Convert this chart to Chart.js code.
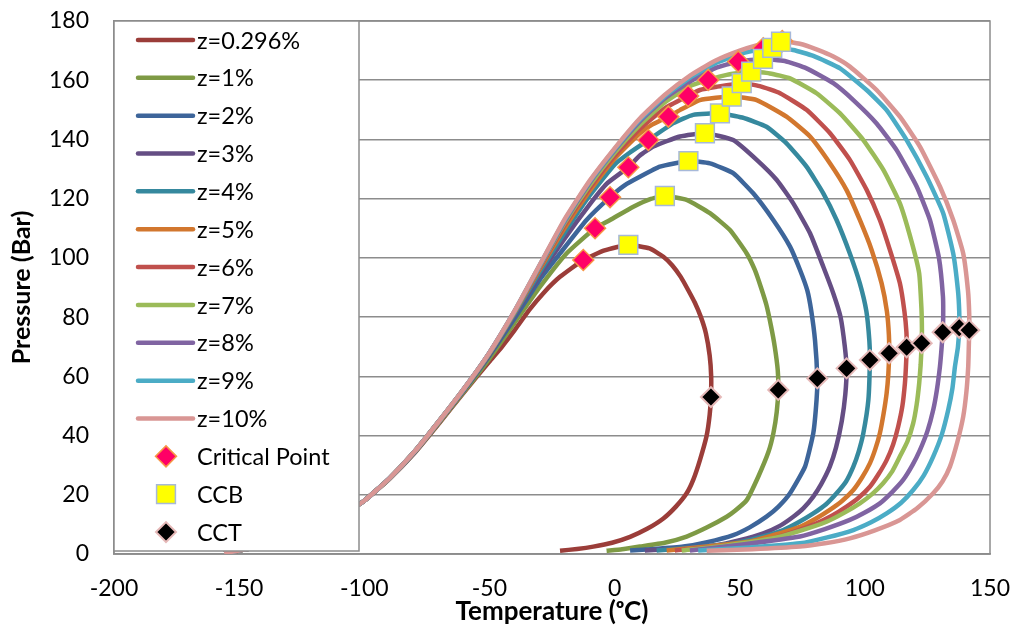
<!DOCTYPE html>
<html>
<head>
<meta charset="utf-8">
<script src="https://cdn.jsdelivr.net/npm/chart.js@4.4.1/dist/chart.umd.min.js"></script>
<style>
  html, body { margin: 0; padding: 0; background: #fff; }
</style>
</head>
<body>
<canvas id="myChart" width="1016" height="627"></canvas>
<script>
// phase envelopes, [temperature degC, pressure bar]
const z0296 = [[-156,0.3],[-150,1.2],[-140,2.8],[-130,5],[-120,8.2],[-110,12.5],[-100,18],[-90,25.3],[-80,34],[-70,44.2],[-60,54.8],[-50,65],[-45,70],[-40,75.5],[-34,82.5],[-28,88.5],[-21.8,93.6],[-12.5,99.3],[-4,102.5],[5.5,104.4],[14,103.2],[19.5,100.4],[23,97.5],[26.5,93.5],[29.5,89],[32,85],[34.5,80],[36.5,74.5],[38,67],[38.6,60],[38.5,53],[38,47],[36.8,40],[34.1,31.7],[31.5,25.2],[28.8,20.5],[24.5,16],[19.5,12],[13,8.5],[6.2,5.8],[-1,3.8],[-8.5,2.5],[-15,1.7],[-21.8,1.1]];
const z1 = [[-156,0.3],[-150,1.2],[-140,2.8],[-130,5],[-120,8.2],[-110,12.5],[-100,18],[-90,25.4],[-80,34.2],[-70,44.5],[-60,55],[-50,66],[-40,78],[-30,90],[-19.2,101.5],[-7.8,110],[-1.8,112.8],[7.5,117.3],[14,119.8],[20.1,120.9],[28.8,119.6],[38.1,115.1],[46.1,109.4],[52.8,101.5],[56,96],[58.5,90],[60.7,84],[62.5,77],[64,70],[65.2,62],[65.4,55.4],[64.8,48],[63.5,41],[61.5,34.5],[57.4,26.1],[52.8,18.2],[48,14.5],[44.8,12.6],[37,9],[28.8,5.9],[20,3.8],[10.1,2.5],[3,1.6],[-3.2,1.1]];
const z2 = [[-156,0.3],[-150,1.2],[-140,2.8],[-130,5],[-120,8.2],[-110,12.5],[-100,18],[-90,25.5],[-80,34.3],[-70,44.8],[-60,55.5],[-50,67],[-40,79.5],[-30,92.5],[-21.8,101.5],[-11.2,112.8],[-1.8,120.5],[4,124.5],[10.1,127.4],[18.1,130.8],[29.5,132.7],[38.1,131.9],[47.4,128.6],[55.4,121.8],[63.4,112.8],[70.1,103.8],[74.1,95.9],[77,89],[78.6,82],[80.1,72],[81,59.3],[80.7,52],[79.4,40.8],[76.1,29.5],[70.1,20.5],[65.5,16],[60.7,12.6],[54,9],[47.4,6.4],[37,4],[27.5,2.5],[16,1.7],[6.2,1.2]];
const z3 = [[-156,0.3],[-150,1.2],[-140,2.8],[-130,5],[-120,8.2],[-110,12.5],[-100,18],[-90,25.5],[-80,34.4],[-70,44.9],[-60,55.7],[-50,67.5],[-40,80.5],[-30,94],[-20,106.5],[-10,118],[-3.2,125],[5.5,130.6],[10,134.5],[15.5,137.6],[26.1,141],[36.1,142.1],[47.4,139.8],[56.8,133.1],[64.8,126.3],[71.4,118.4],[78.1,108.3],[83.4,97],[87.4,88],[90.3,80],[92,70],[92.7,62.7],[92.2,54],[90.8,45],[88.5,36],[86,29.5],[82.5,23.5],[79.4,19.4],[75.5,15.5],[71.4,12.6],[66,9.5],[59.4,7],[50,4.7],[40.8,3],[26,1.9],[12.1,1.2]];
const z4 = [[-156,0.3],[-150,1.2],[-140,2.8],[-130,5],[-120,8.2],[-110,12.5],[-100,18],[-90,25.5],[-80,34.5],[-70,45],[-60,55.8],[-50,67.7],[-40,81],[-30,95],[-20,108.5],[-10,121],[0,131.5],[6,135.5],[13.5,139.8],[23.5,145.5],[31.4,148.3],[42.1,148.8],[51,147.4],[60.7,144.3],[68.7,138.7],[76.7,130.8],[83.4,121.8],[88.7,112.8],[94,101.5],[98,91.4],[100.6,82],[101.8,72],[102,65.5],[101.4,52],[99.4,40.8],[97.5,34.5],[95.4,29.5],[92.5,24.5],[88.7,20.5],[84.5,16.8],[79.4,13.7],[73.5,10.7],[67.4,8.1],[57.5,5.5],[47.4,3.6],[32,2.2],[16.8,1.2]];
const z5 = [[-156,0.3],[-150,1.2],[-140,2.8],[-130,5],[-120,8.2],[-110,12.5],[-100,18],[-90,25.5],[-80,34.5],[-70,45],[-60,55.9],[-50,67.8],[-40,81.5],[-30,96],[-20,110],[-10,122.5],[0,133.5],[10,142],[15,145],[21.5,147.7],[26.1,149.9],[34.1,153.3],[46.8,154.5],[56.8,153.3],[68.7,147.7],[78.1,141],[86.1,131.9],[92.7,122.9],[98,112.8],[102.7,102.7],[106.7,91.4],[108.8,82],[109.6,74],[109.7,67.8],[109.4,61],[108.7,54.3],[107.5,47.5],[106,40.8],[104.2,35.5],[102,30.6],[99,26],[95.4,21.6],[91,18],[86,14.9],[80.5,12],[74.1,9.2],[64,6.5],[54.1,4.2],[37,2.5],[20.8,1.2]];
const z6 = [[-156,0.3],[-150,1.2],[-140,2.8],[-130,5],[-120,8.2],[-110,12.5],[-100,18],[-90,25.5],[-80,34.5],[-70,45],[-60,56],[-50,67.9],[-40,81.7],[-30,96.5],[-20,111],[-10,123.5],[0,134.5],[10,143.5],[20,150.5],[29.4,154.7],[34.1,156.7],[40.8,157.8],[50.8,159],[58,158],[66.1,155.6],[76.7,150],[86.1,142.1],[94,133.1],[100.7,123],[106,112.8],[110,102.7],[114,91.4],[115.8,82],[116.6,75],[116.7,69.8],[116.4,63],[116,57.6],[115,50],[113.3,43],[111.3,37],[108.7,31.7],[105.5,27],[102,22.7],[97.5,19],[92.7,16],[87,13],[80.7,10.4],[71,7.3],[60.7,4.7],[43,2.6],[24.1,1.2]];
const z7 = [[-156,0.3],[-150,1.2],[-140,2.8],[-130,5],[-120,8.2],[-110,12.5],[-100,18],[-90,25.5],[-80,34.5],[-70,45],[-60,56],[-50,67.9],[-40,81.8],[-30,97],[-20,111.8],[-10,124.5],[0,135.5],[10,144.8],[20,152.5],[30,158],[37.4,160.1],[44.8,161.8],[54.6,162.9],[62,162.3],[70.1,160.6],[80.7,155.6],[90.1,148.8],[99.4,139.8],[107.4,129.7],[114,118.4],[118.5,106],[121.7,94.8],[122.6,83],[122.8,76],[122.7,71.2],[122.3,64],[121.7,57.6],[120.7,50.5],[119.3,44.1],[117,38],[114,32.9],[111,28],[107.3,23.9],[103,20.3],[98,17.1],[91.5,13.8],[84.7,10.9],[74,7.8],[63.4,5.3],[45,2.9],[26.8,1.2]];
const z8 = [[-156,0.3],[-150,1.2],[-140,2.8],[-130,5],[-120,8.2],[-110,12.5],[-100,18],[-90,25.5],[-80,34.5],[-70,45],[-60,56],[-50,68],[-40,81.9],[-30,97.2],[-20,112.3],[-10,125.3],[0,136.3],[10,146],[20,153.8],[30,159.5],[40,164],[49.4,166.3],[59.3,167.2],[68,166.5],[76.7,164],[87.4,159],[95.4,153.3],[104.7,145.4],[112.7,136.4],[120.7,124.1],[126,112.8],[129.6,100],[131.2,87],[131.3,80],[131.1,74.9],[130.6,69],[130,63.3],[128.8,55.5],[127.3,48.6],[125,41.5],[122,35.1],[119,30],[115.3,25],[111,21],[106,17.1],[100,14],[94,11.5],[84,8.4],[74.1,5.9],[52,3.3],[30.1,1.2]];
const z9 = [[-156,0.3],[-150,1.2],[-140,2.8],[-130,5],[-120,8.2],[-110,12.5],[-100,18],[-90,25.5],[-80,34.5],[-70,45],[-60,56],[-50,68],[-40,81.95],[-30,97.4],[-20,112.7],[-10,125.7],[0,136.7],[10,146.6],[20,154.5],[30,160.8],[40,165.6],[50,168.8],[59.4,170.6],[63,170.9],[71.4,170.2],[79.4,168.2],[90.1,164],[100.7,156.7],[108.7,149.9],[116.7,139.8],[124.7,127.4],[131.3,115.1],[135.3,101.5],[137.2,89],[137.7,82],[137.7,76.4],[137.2,70],[136,63.3],[135,56],[133.3,48.6],[130.8,40.5],[127.3,32.9],[123.5,26.5],[119.3,21.6],[114.5,17.3],[108.7,13.7],[102.5,10.7],[95.4,8.1],[85,5.6],[74.1,3.6],[54,2.2],[33.4,1.2]];
const z10 = [[-156,0.3],[-150,1.2],[-140,2.8],[-130,5],[-120,8.2],[-110,12.5],[-100,18],[-90,25.5],[-80,34.5],[-70,45],[-60,56],[-50,68],[-40,82],[-30,97.5],[-20,113],[-10,126],[0,137],[10,147],[20,155],[30,161.5],[40,166.5],[50,170],[60,172.5],[67,173.2],[74,172.3],[80.7,170.4],[87.4,168],[94,164.6],[104.7,156.7],[114,147.7],[122,137.6],[130,124.1],[135.3,112.8],[139.3,101.5],[141.2,89],[141.7,81],[141.7,75.6],[141.5,69],[141.3,63.3],[140.6,55],[139.3,46.4],[137,38],[134,29.5],[131,24.5],[127.3,20.5],[121,15.5],[114,11.5],[104,8],[94,5.3],[84,3.6],[74.1,2.5],[55,1.6],[36.8,1.1]];

// special points, one per envelope
const criticalT = [-12.5, -7.8, -1.8, 5.5, 13.5, 21.5, 29.4, 37.4, 49.4, 59.4, 67];
const criticalP = [99.3, 110, 120.5, 130.6, 139.8, 147.7, 154.7, 160.1, 166.3, 170.8, 173.2];
const ccbT = [5.5, 20.1, 29.5, 36.1, 42.1, 46.8, 50.8, 54.6, 59.3, 63, 66.5];
const ccbP = [104.4, 120.9, 132.7, 142.1, 148.8, 154.5, 159, 162.9, 167.2, 170.9, 173];
const cctT = [38.5, 65.4, 81, 92.7, 102, 109.7, 116.7, 122.7, 131.1, 137.7, 141.7];
const cctP = [53, 55.4, 59.3, 62.7, 65.5, 67.8, 69.8, 71.2, 74.9, 76.4, 75.6];

const curveLabels = ['z=0.296%', 'z=1%', 'z=2%', 'z=3%', 'z=4%', 'z=5%', 'z=6%', 'z=7%', 'z=8%', 'z=9%', 'z=10%'];
const curves = [z0296, z1, z2, z3, z4, z5, z6, z7, z8, z9, z10];
const curveColors = ['#9B3D39', '#7E9A45', '#3D659A', '#654E84', '#36899E', '#D2772E',
                     '#C0504D', '#9BBB59', '#8064A2', '#4BACC6', '#D99694'];

const xTicks = [-200, -150, -100, -50, 0, 50, 100, 150];
const yTicks = [0, 20, 40, 60, 80, 100, 120, 140, 160, 180];

const FONT = 'Lato';
const GRID = '#8C8C8C';
const NONE = 'rgba(0,0,0,0)';

const toXY = (ts, ps) => ts.map((t, i) => ({x: t, y: ps[i]}));

const datasets = curves.map((c, i) => ({
  label: curveLabels[i],
  data: c.map(p => ({x: p[0], y: p[1]})),
  showLine: true,
  borderColor: curveColors[i],
  backgroundColor: curveColors[i],
  borderWidth: 4.5,
  pointRadius: 0,
  tension: 0.15,
  order: 14 - i
}));

datasets.push({
  label: 'Critical Point',
  data: toXY(criticalT, criticalP),
  showLine: false,
  pointStyle: 'rectRot',
  pointRadius: 10.5,
  backgroundColor: '#FF0066',
  borderColor: '#F79646',
  pointBorderWidth: 1.5,
  order: 2
});
datasets.push({
  label: 'CCB',
  data: toXY(ccbT, ccbP),
  showLine: false,
  pointStyle: 'rect',
  pointRadius: 13.3,
  backgroundColor: '#FFFF00',
  borderColor: '#A7B9D9',
  pointBorderWidth: 1.5,
  order: 1
});
datasets.push({
  label: 'CCT',
  data: toXY(cctT, cctP),
  showLine: false,
  pointStyle: 'rectRot',
  pointRadius: 10,
  backgroundColor: '#000000',
  borderColor: '#E6B9B8',
  pointBorderWidth: 2,
  order: 0
});

// plot frame (top and right edges)
const frame = {
  id: 'frame',
  beforeDatasetsDraw(chart) {
    const {ctx, chartArea: a} = chart;
    ctx.save();
    ctx.strokeStyle = GRID;
    ctx.lineWidth = 1.5;
    ctx.strokeRect(a.left, a.top, a.right - a.left, a.bottom - a.top);
    ctx.restore();
  }
};

// boxed legend sitting over the upper left of the plot
const boxLegend = {
  id: 'boxLegend',
  afterDraw(chart) {
    const {ctx, chartArea: a} = chart;
    const left = a.left, top = a.top, right = a.left + 245, bottom = a.bottom - 3;
    const sets = chart.data.datasets;
    const step = (bottom - top) / sets.length;
    ctx.save();
    ctx.fillStyle = '#fff';
    ctx.fillRect(left, top, right - left, bottom - top);
    ctx.strokeStyle = GRID;
    ctx.lineWidth = 1.5;
    ctx.strokeRect(left, top, right - left, bottom - top);
    ctx.font = '23.5px ' + FONT;
    ctx.textBaseline = 'middle';
    ctx.textAlign = 'left';
    sets.forEach((ds, i) => {
      const y = top + step * (i + 0.5);
      if (ds.showLine) {
        ctx.strokeStyle = ds.borderColor;
        ctx.lineWidth = 4.5;
        ctx.lineCap = 'round';
        ctx.beginPath();
        ctx.moveTo(left + 24, y);
        ctx.lineTo(left + 79, y);
        ctx.stroke();
      } else {
        ctx.fillStyle = ds.backgroundColor;
        ctx.strokeStyle = ds.borderColor;
        ctx.lineWidth = ds.pointBorderWidth;
        Chart.helpers.drawPoint(ctx, {
          pointStyle: ds.pointStyle, radius: ds.pointRadius,
          borderWidth: ds.pointBorderWidth, rotation: 0
        }, left + 52, y);
      }
      ctx.fillStyle = '#000';
      ctx.fillText(ds.label, left + 83, y + 1);
    });
    ctx.restore();
  }
};

const config = {
  type: 'scatter',
  data: {datasets: datasets},
  options: {
    responsive: false,
    animation: false,
    devicePixelRatio: 1,
    layout: {padding: {top: 21, right: 26, left: 0, bottom: 0}},
    plugins: {legend: {display: false}, tooltip: {enabled: false}},
    scales: {
      x: {
        type: 'linear', min: -200, max: 150,
        afterBuildTicks: s => { s.ticks = xTicks.map(v => ({value: v})); },
        afterFit: s => { s.height = 73; },
        // tick marks kept invisible, their length only spaces the labels
        grid: {drawOnChartArea: false, drawTicks: true, tickLength: 20, tickColor: NONE, color: NONE},
        border: {display: true, color: GRID, width: 1.5},
        ticks: {autoSkip: false, maxRotation: 0, padding: 1, color: '#000', font: {family: FONT, size: 23}},
        title: {display: true, text: 'Temperature (\u1D52C)', color: '#000',
                font: {family: FONT, size: 26, weight: 'bold'}, padding: {top: 0, bottom: 0}}
      },
      y: {
        type: 'linear', min: 0, max: 180,
        afterBuildTicks: s => { s.ticks = yTicks.map(v => ({value: v})); },
        afterFit: s => { s.width = 114; },
        grid: {color: GRID, lineWidth: 1.5, drawTicks: true, tickLength: 24, tickColor: NONE},
        border: {display: true, color: GRID, width: 1.5},
        ticks: {padding: 1, color: '#000', font: {family: FONT, size: 23}},
        title: {display: true, text: 'Pressure (Bar)', color: '#000',
                font: {family: FONT, size: 25, weight: 'bold'}, padding: {top: 7, bottom: 0}}
      }
    }
  },
  plugins: [frame, boxLegend]
};

const myChart = new Chart(document.getElementById('myChart'), config);
</script>
</body>
</html>
